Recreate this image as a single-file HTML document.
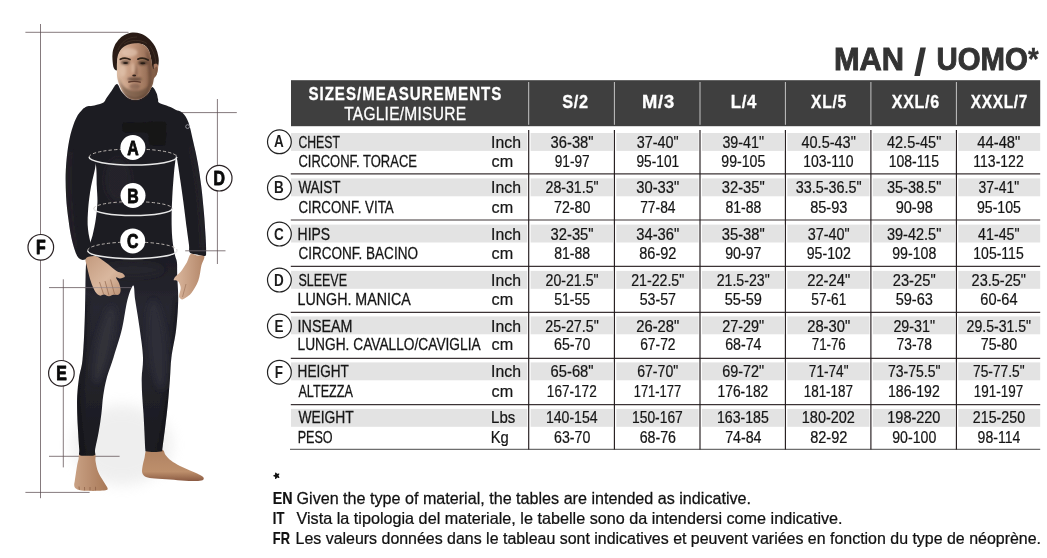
<!DOCTYPE html>
<html><head><meta charset="utf-8"><title>Size chart</title>
<style>
html,body{margin:0;padding:0;background:#ffffff;}
body{width:1047px;height:558px;overflow:hidden;font-family:"Liberation Sans",sans-serif;}
svg{display:block;font-family:"Liberation Sans",sans-serif;opacity:0.999;}
</style></head><body>
<svg width="1047" height="558" viewBox="0 0 1047 558">
<rect width="1047" height="558" fill="#ffffff"/>
<!-- figure -->
<defs>
  <linearGradient id="skinF" x1="0" y1="0" x2="1" y2="0">
    <stop offset="0" stop-color="#dcbca4"/><stop offset="0.4" stop-color="#c2957a"/><stop offset="1" stop-color="#7a5640"/>
  </linearGradient>
  <linearGradient id="suitG" gradientUnits="userSpaceOnUse" x1="0" y1="84" x2="0" y2="456">
    <stop offset="0" stop-color="#1d1c22"/><stop offset="0.46" stop-color="#1e1d24"/><stop offset="0.6" stop-color="#272730"/><stop offset="0.8" stop-color="#22222a"/><stop offset="1" stop-color="#1a1a1f"/>
  </linearGradient>
  <linearGradient id="handL" x1="0" y1="0" x2="1" y2="1">
    <stop offset="0" stop-color="#c39a7e"/><stop offset="0.55" stop-color="#d9b79e"/><stop offset="1" stop-color="#b88d70"/>
  </linearGradient>
  <linearGradient id="handR" x1="0" y1="0" x2="1" y2="0">
    <stop offset="0" stop-color="#dcb9a0"/><stop offset="1" stop-color="#b38668"/>
  </linearGradient>
  <linearGradient id="footL" x1="0" y1="0" x2="1" y2="0">
    <stop offset="0" stop-color="#c9a184"/><stop offset="1" stop-color="#a87857"/>
  </linearGradient>
  <linearGradient id="footR" x1="0" y1="0" x2="0" y2="1">
    <stop offset="0" stop-color="#b08261"/><stop offset="0.7" stop-color="#bd8f6c"/><stop offset="1" stop-color="#8a5a42"/>
  </linearGradient>
  <filter id="soft" x="-10%" y="-10%" width="120%" height="120%"><feGaussianBlur stdDeviation="0.45"/></filter>
  <filter id="b1" x="-30%" y="-30%" width="160%" height="160%"><feGaussianBlur stdDeviation="1"/></filter>
  <filter id="b3" x="-50%" y="-50%" width="200%" height="200%"><feGaussianBlur stdDeviation="3"/></filter>
  <filter id="shadow" x="-50%" y="-50%" width="200%" height="200%"><feGaussianBlur stdDeviation="7"/></filter>
  <clipPath id="armclip"><path d="M89.4 106.1 C86.5 105.7 82.4 109.4 79.7 112.6 C77.0 115.8 75.1 120.1 73.2 125.5 C71.3 130.9 69.6 137.3 68.4 144.8 C67.2 152.3 66.2 162.0 65.8 170.6 C65.4 179.2 65.7 188.4 66.1 196.5 C66.5 204.6 67.5 212.0 68.4 219.0 C69.3 226.0 70.2 232.5 71.6 238.4 C72.9 244.3 75.0 251.0 76.5 254.5 C78.0 258.0 79.0 258.3 80.5 259.2 C82.0 260.1 82.9 260.3 85.2 259.6 C87.5 258.9 93.6 258.0 94.4 255.0 C95.2 252.0 91.3 246.5 90.2 241.6 C89.1 236.7 88.0 231.4 87.7 225.5 C87.4 219.6 87.9 212.5 88.4 206.1 C89.0 199.7 89.8 193.8 91.0 186.8 C92.2 179.8 94.8 172.0 95.8 164.2 C96.8 156.4 96.8 148.2 97.0 140.0 C97.2 131.8 98.3 120.7 97.0 115.0 C95.7 109.3 92.3 106.5 89.4 106.1Z"/><path d="M166.0 112.0 C166.8 107.9 172.3 110.4 175.0 110.5 C177.7 110.6 180.0 110.6 182.2 112.6 C184.4 114.6 186.6 117.5 188.4 122.3 C190.2 127.1 191.6 134.6 193.2 141.6 C194.8 148.6 196.7 156.7 198.0 164.2 C199.3 171.7 200.3 178.7 201.3 186.8 C202.3 194.9 203.2 204.5 203.9 212.6 C204.6 220.7 205.1 228.8 205.5 235.2 C205.9 241.6 206.2 247.8 206.1 251.3 C206.0 254.8 206.5 255.4 205.0 256.0 C203.5 256.6 199.5 255.2 197.0 254.6 C194.5 254.0 191.1 254.0 189.8 252.4 C188.5 250.8 189.5 248.9 189.0 245.0 C188.5 241.1 187.7 235.7 186.8 228.7 C185.9 221.7 184.6 211.0 183.5 202.9 C182.4 194.8 181.5 188.4 180.3 180.3 C179.1 172.2 177.8 162.1 176.1 154.5 C174.4 146.9 171.7 142.1 170.0 135.0 C168.3 127.9 165.2 116.1 166.0 112.0Z"/></clipPath>
  <clipPath id="bodyclip"><path d="M117.0 84.0 C115.3 83.9 113.2 88.7 111.5 91.0 C109.8 93.3 107.8 96.1 106.5 98.0 C105.2 99.9 105.2 101.3 103.5 102.5 C101.8 103.7 98.3 104.3 96.0 105.0 C93.7 105.7 91.7 105.5 89.4 106.5 C87.1 107.5 82.9 107.1 82.0 111.0 C81.1 114.9 82.7 123.5 84.0 130.0 C85.3 136.5 88.0 144.3 90.0 150.0 C92.0 155.7 94.7 158.1 95.8 164.2 C96.9 170.3 96.5 180.4 96.8 186.8 C97.1 193.2 97.6 197.5 97.4 202.9 C97.2 208.3 96.6 213.6 95.8 219.0 C95.0 224.4 93.7 230.7 92.6 235.2 C91.5 239.7 90.0 242.2 89.0 246.0 C88.0 249.8 87.2 253.2 86.6 258.0 C86.0 262.8 85.8 268.0 85.6 275.0 C85.4 282.0 85.4 291.1 85.2 300.0 C85.0 308.9 84.9 318.7 84.4 328.7 C84.0 338.7 83.4 351.8 82.5 360.0 C81.6 368.2 79.9 371.9 79.0 377.9 C78.1 383.9 77.5 389.8 77.2 395.8 C76.9 401.8 77.1 407.8 77.2 413.8 C77.3 419.8 77.8 425.7 78.1 431.7 C78.4 437.7 79.0 445.7 79.3 449.6 C79.5 453.5 78.3 454.0 79.6 455.0 C80.9 456.0 84.5 455.8 87.0 455.8 C89.5 455.8 93.6 456.0 94.9 455.0 C96.2 454.0 94.5 453.5 95.1 449.6 C95.7 445.7 97.7 437.7 98.7 431.7 C99.8 425.7 100.7 419.8 101.4 413.8 C102.2 407.8 102.3 401.8 103.2 395.8 C104.1 389.8 105.0 384.3 106.7 377.9 C108.4 371.5 111.0 365.6 113.5 357.4 C116.0 349.2 119.7 338.3 122.0 328.7 C124.3 319.1 125.5 307.2 127.4 300.0 C129.3 292.8 132.0 285.4 133.3 285.4 C134.6 285.4 134.1 292.8 135.2 300.0 C136.3 307.2 138.4 319.1 139.7 328.7 C141.0 338.3 142.7 349.2 143.0 357.4 C143.3 365.6 141.8 371.5 141.7 377.9 C141.6 384.3 141.9 389.8 142.2 395.8 C142.5 401.8 143.1 407.8 143.5 413.8 C143.9 419.8 144.1 425.7 144.4 431.7 C144.7 437.7 145.0 446.3 145.3 449.6 C145.6 452.9 144.6 450.9 146.0 451.3 C147.4 451.7 151.3 452.0 154.0 452.0 C156.7 452.0 160.6 451.7 162.0 451.3 C163.4 450.9 161.9 452.9 162.3 449.6 C162.7 446.3 163.8 437.7 164.6 431.7 C165.3 425.7 166.1 419.8 166.8 413.8 C167.5 407.8 168.1 401.8 168.6 395.8 C169.1 389.8 169.5 384.3 170.0 377.9 C170.5 371.5 170.4 365.6 171.4 357.4 C172.4 349.2 175.1 338.3 176.2 328.7 C177.3 319.1 178.0 308.9 178.2 300.0 C178.4 291.1 177.4 281.3 177.2 275.0 C177.0 268.7 177.3 265.4 176.9 262.0 C176.5 258.6 175.6 258.4 174.8 254.5 C174.0 250.6 172.8 244.3 172.3 238.4 C171.8 232.5 171.6 226.0 171.6 219.0 C171.6 212.0 171.9 204.0 172.3 196.5 C172.7 189.0 173.3 180.9 173.9 173.9 C174.5 166.9 175.4 161.0 176.1 154.5 C176.8 148.0 177.3 140.8 178.0 135.0 C178.7 129.2 179.8 123.8 180.0 120.0 C180.2 116.2 180.5 114.6 179.0 112.5 C177.5 110.4 174.2 108.9 171.0 107.3 C167.8 105.7 161.7 104.4 159.5 103.0 C157.3 101.6 158.5 100.7 158.0 99.0 C157.5 97.3 157.4 95.0 156.5 93.0 C155.6 91.0 153.7 86.9 152.3 87.0 C150.9 87.1 149.8 91.6 148.0 93.5 C146.2 95.4 143.6 97.5 141.5 98.6 C139.4 99.6 137.6 99.9 135.3 99.8 C133.1 99.7 130.3 99.4 128.0 98.0 C125.7 96.6 123.3 93.8 121.5 91.5 C119.7 89.2 118.7 84.1 117.0 84.0Z"/></clipPath>
</defs>
<ellipse cx="122" cy="445" rx="50" ry="40" fill="#d8d8d8" opacity="0.42" filter="url(#shadow)"/>
<g stroke="#5c4e52" stroke-width="0.75" fill="none">
  <line x1="25.4" y1="32.3" x2="128.5" y2="32.3"/>
  <line x1="40.5" y1="24" x2="40.5" y2="498.2"/>
  <line x1="25.4" y1="492.4" x2="89.6" y2="492.4"/>
  <line x1="49" y1="287.6" x2="131.8" y2="287.6"/>
  <line x1="63.3" y1="279.3" x2="63.3" y2="467.4"/>
  <line x1="49" y1="456.3" x2="119.6" y2="456.3"/>
  <line x1="182" y1="112.6" x2="236.8" y2="112.6"/>
  <line x1="217.4" y1="99" x2="217.4" y2="264"/>
  <line x1="185.2" y1="250.8" x2="225.5" y2="250.8"/>
</g>
<g filter="url(#soft)">
<path d="M79.6 454.0 C81.0 453.3 84.5 455.0 87.0 455.0 C89.5 455.0 93.5 452.9 94.9 454.0 C96.3 455.1 95.0 458.4 95.6 461.4 C96.1 464.4 96.9 468.8 98.2 472.1 C99.5 475.4 102.0 478.7 103.6 481.4 C105.2 484.1 107.3 486.8 107.6 488.3 C107.9 489.8 107.1 489.9 105.5 490.3 C103.9 490.7 100.9 490.7 98.0 490.8 C95.1 490.9 91.0 490.9 88.0 490.8 C85.0 490.7 82.1 490.6 80.0 490.2 C77.9 489.8 76.5 489.2 75.5 488.3 C74.5 487.4 74.3 486.4 74.2 485.0 C74.1 483.6 74.5 483.2 74.9 480.1 C75.4 477.1 76.3 470.2 76.9 466.7 C77.5 463.2 78.1 461.1 78.6 459.0 C79.0 456.9 78.2 454.7 79.6 454.0Z" fill="url(#footL)"/>
<path d="M146.6 450.0 C148.2 448.8 151.3 451.0 154.0 451.0 C156.7 451.0 160.8 449.3 162.7 450.0 C164.6 450.7 164.1 453.2 165.5 455.0 C166.9 456.8 168.6 458.7 171.0 460.5 C173.4 462.3 176.8 464.3 180.0 466.0 C183.2 467.7 186.8 469.1 190.0 470.5 C193.2 471.9 196.8 473.3 199.0 474.5 C201.2 475.7 202.9 476.6 203.5 477.5 C204.1 478.4 203.8 479.6 202.5 480.2 C201.2 480.8 198.9 480.9 196.0 481.0 C193.1 481.1 189.3 481.1 185.0 480.8 C180.7 480.6 175.0 479.9 170.0 479.5 C165.0 479.1 159.0 478.8 155.0 478.4 C151.0 478.0 148.1 477.9 146.0 477.0 C143.9 476.1 142.9 474.8 142.3 473.0 C141.7 471.2 142.2 468.5 142.6 466.0 C143.0 463.5 143.8 460.7 144.5 458.0 C145.2 455.3 145.0 451.2 146.6 450.0Z" fill="url(#footR)"/>
<path d="M79 486.5 L79.3 489.8 M84.5 487 L84.6 490.4 M90 487 L90 490.6 M95.5 486.8 L95.6 490.4" stroke="#8a5d44" stroke-width="0.7" fill="none"/>
<path d="M117.0 84.0 C115.3 83.9 113.2 88.7 111.5 91.0 C109.8 93.3 107.8 96.1 106.5 98.0 C105.2 99.9 105.2 101.3 103.5 102.5 C101.8 103.7 98.3 104.3 96.0 105.0 C93.7 105.7 91.7 105.5 89.4 106.5 C87.1 107.5 82.9 107.1 82.0 111.0 C81.1 114.9 82.7 123.5 84.0 130.0 C85.3 136.5 88.0 144.3 90.0 150.0 C92.0 155.7 94.7 158.1 95.8 164.2 C96.9 170.3 96.5 180.4 96.8 186.8 C97.1 193.2 97.6 197.5 97.4 202.9 C97.2 208.3 96.6 213.6 95.8 219.0 C95.0 224.4 93.7 230.7 92.6 235.2 C91.5 239.7 90.0 242.2 89.0 246.0 C88.0 249.8 87.2 253.2 86.6 258.0 C86.0 262.8 85.8 268.0 85.6 275.0 C85.4 282.0 85.4 291.1 85.2 300.0 C85.0 308.9 84.9 318.7 84.4 328.7 C84.0 338.7 83.4 351.8 82.5 360.0 C81.6 368.2 79.9 371.9 79.0 377.9 C78.1 383.9 77.5 389.8 77.2 395.8 C76.9 401.8 77.1 407.8 77.2 413.8 C77.3 419.8 77.8 425.7 78.1 431.7 C78.4 437.7 79.0 445.7 79.3 449.6 C79.5 453.5 78.3 454.0 79.6 455.0 C80.9 456.0 84.5 455.8 87.0 455.8 C89.5 455.8 93.6 456.0 94.9 455.0 C96.2 454.0 94.5 453.5 95.1 449.6 C95.7 445.7 97.7 437.7 98.7 431.7 C99.8 425.7 100.7 419.8 101.4 413.8 C102.2 407.8 102.3 401.8 103.2 395.8 C104.1 389.8 105.0 384.3 106.7 377.9 C108.4 371.5 111.0 365.6 113.5 357.4 C116.0 349.2 119.7 338.3 122.0 328.7 C124.3 319.1 125.5 307.2 127.4 300.0 C129.3 292.8 132.0 285.4 133.3 285.4 C134.6 285.4 134.1 292.8 135.2 300.0 C136.3 307.2 138.4 319.1 139.7 328.7 C141.0 338.3 142.7 349.2 143.0 357.4 C143.3 365.6 141.8 371.5 141.7 377.9 C141.6 384.3 141.9 389.8 142.2 395.8 C142.5 401.8 143.1 407.8 143.5 413.8 C143.9 419.8 144.1 425.7 144.4 431.7 C144.7 437.7 145.0 446.3 145.3 449.6 C145.6 452.9 144.6 450.9 146.0 451.3 C147.4 451.7 151.3 452.0 154.0 452.0 C156.7 452.0 160.6 451.7 162.0 451.3 C163.4 450.9 161.9 452.9 162.3 449.6 C162.7 446.3 163.8 437.7 164.6 431.7 C165.3 425.7 166.1 419.8 166.8 413.8 C167.5 407.8 168.1 401.8 168.6 395.8 C169.1 389.8 169.5 384.3 170.0 377.9 C170.5 371.5 170.4 365.6 171.4 357.4 C172.4 349.2 175.1 338.3 176.2 328.7 C177.3 319.1 178.0 308.9 178.2 300.0 C178.4 291.1 177.4 281.3 177.2 275.0 C177.0 268.7 177.3 265.4 176.9 262.0 C176.5 258.6 175.6 258.4 174.8 254.5 C174.0 250.6 172.8 244.3 172.3 238.4 C171.8 232.5 171.6 226.0 171.6 219.0 C171.6 212.0 171.9 204.0 172.3 196.5 C172.7 189.0 173.3 180.9 173.9 173.9 C174.5 166.9 175.4 161.0 176.1 154.5 C176.8 148.0 177.3 140.8 178.0 135.0 C178.7 129.2 179.8 123.8 180.0 120.0 C180.2 116.2 180.5 114.6 179.0 112.5 C177.5 110.4 174.2 108.9 171.0 107.3 C167.8 105.7 161.7 104.4 159.5 103.0 C157.3 101.6 158.5 100.7 158.0 99.0 C157.5 97.3 157.4 95.0 156.5 93.0 C155.6 91.0 153.7 86.9 152.3 87.0 C150.9 87.1 149.8 91.6 148.0 93.5 C146.2 95.4 143.6 97.5 141.5 98.6 C139.4 99.6 137.6 99.9 135.3 99.8 C133.1 99.7 130.3 99.4 128.0 98.0 C125.7 96.6 123.3 93.8 121.5 91.5 C119.7 89.2 118.7 84.1 117.0 84.0Z" fill="url(#suitG)"/>
<g clip-path="url(#bodyclip)" filter="url(#b3)">
<ellipse cx="104" cy="345" rx="8" ry="40" fill="#353541" opacity="0.6" transform="rotate(12 104 345)"/>
<ellipse cx="157" cy="345" rx="9" ry="45" fill="#33333f" opacity="0.55" transform="rotate(-5 157 345)"/>
<ellipse cx="133" cy="270" rx="30" ry="7" fill="#2b2b34" opacity="0.5"/>
<ellipse cx="118" cy="180" rx="13" ry="22" fill="#2a2a33" opacity="0.45"/>
<path d="M85 300 L83 345 L78 400 L79 455" stroke="#121216" stroke-width="3" fill="none" opacity="0.7"/>
<path d="M178 300 L175 345 L168 400 L162.5 452" stroke="#121216" stroke-width="3" fill="none" opacity="0.7"/>
</g>
<path d="M89.4 106.1 C86.5 105.7 82.4 109.4 79.7 112.6 C77.0 115.8 75.1 120.1 73.2 125.5 C71.3 130.9 69.6 137.3 68.4 144.8 C67.2 152.3 66.2 162.0 65.8 170.6 C65.4 179.2 65.7 188.4 66.1 196.5 C66.5 204.6 67.5 212.0 68.4 219.0 C69.3 226.0 70.2 232.5 71.6 238.4 C72.9 244.3 75.0 251.0 76.5 254.5 C78.0 258.0 79.0 258.3 80.5 259.2 C82.0 260.1 82.9 260.3 85.2 259.6 C87.5 258.9 93.6 258.0 94.4 255.0 C95.2 252.0 91.3 246.5 90.2 241.6 C89.1 236.7 88.0 231.4 87.7 225.5 C87.4 219.6 87.9 212.5 88.4 206.1 C89.0 199.7 89.8 193.8 91.0 186.8 C92.2 179.8 94.8 172.0 95.8 164.2 C96.8 156.4 96.8 148.2 97.0 140.0 C97.2 131.8 98.3 120.7 97.0 115.0 C95.7 109.3 92.3 106.5 89.4 106.1Z" fill="#1d1c22"/>
<path d="M166.0 112.0 C166.8 107.9 172.3 110.4 175.0 110.5 C177.7 110.6 180.0 110.6 182.2 112.6 C184.4 114.6 186.6 117.5 188.4 122.3 C190.2 127.1 191.6 134.6 193.2 141.6 C194.8 148.6 196.7 156.7 198.0 164.2 C199.3 171.7 200.3 178.7 201.3 186.8 C202.3 194.9 203.2 204.5 203.9 212.6 C204.6 220.7 205.1 228.8 205.5 235.2 C205.9 241.6 206.2 247.8 206.1 251.3 C206.0 254.8 206.5 255.4 205.0 256.0 C203.5 256.6 199.5 255.2 197.0 254.6 C194.5 254.0 191.1 254.0 189.8 252.4 C188.5 250.8 189.5 248.9 189.0 245.0 C188.5 241.1 187.7 235.7 186.8 228.7 C185.9 221.7 184.6 211.0 183.5 202.9 C182.4 194.8 181.5 188.4 180.3 180.3 C179.1 172.2 177.8 162.1 176.1 154.5 C174.4 146.9 171.7 142.1 170.0 135.0 C168.3 127.9 165.2 116.1 166.0 112.0Z" fill="#1d1c22"/>
<g clip-path="url(#armclip)">
<path d="M70 150 C67.5 180 69 215 75 250" stroke="#2c2b34" stroke-width="3" fill="none" filter="url(#b3)" opacity="0.9"/>
<path d="M192 145 C199 180 203 215 203 250" stroke="#2e2d36" stroke-width="3.5" fill="none" filter="url(#b3)" opacity="0.9"/>
</g>
<path d="M85.6 259.0 C85.0 260.5 85.9 262.0 86.7 265.6 C87.5 269.2 89.2 276.5 90.6 280.8 C92.0 285.1 93.6 289.0 95.1 291.5 C96.6 294.0 98.2 295.1 99.7 295.6 C101.2 296.1 102.5 294.4 104.0 294.5 C105.5 294.6 107.3 296.2 108.9 296.3 C110.5 296.4 111.8 295.1 113.5 294.8 C115.2 294.5 117.6 295.4 118.8 294.6 C120.0 293.8 120.6 291.9 120.6 290.0 C120.6 288.1 119.8 285.1 119.0 283.0 C118.2 280.9 115.8 278.2 116.0 277.5 C116.2 276.8 118.5 278.6 120.0 278.5 C121.5 278.4 124.6 277.5 124.9 276.6 C125.2 275.7 123.4 273.9 122.0 273.0 C120.6 272.1 119.2 272.6 116.5 270.9 C113.8 269.1 109.1 264.9 105.8 262.5 C102.5 260.1 99.3 257.4 96.7 256.4 C94.1 255.4 91.8 256.2 90.0 256.6 C88.2 257.0 86.1 257.5 85.6 259.0Z" fill="url(#handL)"/>
<path d="M190.7 254.0 C192.4 252.8 194.7 255.0 197.0 255.4 C199.3 255.8 203.6 254.8 204.3 256.5 C205.0 258.2 202.4 261.6 201.4 265.6 C200.4 269.7 200.0 276.2 198.3 280.8 C196.6 285.4 193.5 290.3 191.4 293.1 C189.3 295.9 187.5 296.4 186.0 297.5 C184.5 298.6 183.3 299.4 182.2 299.4 C181.1 299.4 179.9 298.2 179.4 297.5 C178.9 296.8 179.0 296.5 179.2 295.0 C179.4 293.5 180.6 290.4 180.7 288.5 C180.8 286.6 180.0 284.8 179.5 283.5 C179.0 282.2 178.6 281.5 177.7 281.0 C176.8 280.5 174.2 281.1 173.8 280.3 C173.4 279.6 174.3 277.9 175.5 276.5 C176.7 275.1 178.8 274.0 180.7 271.7 C182.6 269.4 185.1 265.4 186.8 262.5 C188.5 259.6 189.0 255.2 190.7 254.0Z" fill="url(#handR)"/>
<path d="M99.5 282 L103.5 294 M105 281 L109 295.5 M110.5 279.5 L114.5 294" stroke="#8c6249" stroke-width="0.8" fill="none" opacity="0.8"/>
<path d="M186 284 L182.5 297" stroke="#8c6249" stroke-width="0.7" fill="none" opacity="0.7"/>
</g>
<path d="M123.0 123.0 C124.3 122.2 127.2 122.3 130.0 122.2 C132.8 122.1 137.0 122.6 140.0 122.6 C143.0 122.6 145.2 122.2 148.0 122.0 C150.8 121.8 154.3 121.6 157.0 121.6 C159.7 121.6 162.5 121.4 164.0 121.8 C165.5 122.2 165.8 122.3 166.2 124.0 C166.6 125.7 166.4 129.2 166.3 132.0 C166.2 134.8 166.1 138.8 165.8 141.0 C165.5 143.2 165.8 144.4 164.5 145.2 C163.2 146.0 160.2 145.8 158.0 145.8 C155.8 145.8 152.5 145.8 151.0 145.2 C149.5 144.6 149.4 143.5 149.0 142.0 C148.6 140.5 149.1 137.5 148.6 136.0 C148.1 134.5 148.1 133.4 146.0 132.8 C143.9 132.2 139.2 132.6 136.0 132.6 C132.8 132.6 129.1 133.0 127.0 132.8 C124.9 132.6 124.0 132.5 123.2 131.5 C122.4 130.5 122.4 128.4 122.4 127.0 C122.4 125.6 121.7 123.8 123.0 123.0Z" fill="#161517" filter="url(#soft)"/>
<circle cx="187.6" cy="126.6" r="1.9" fill="none" stroke="#a8a8b0" stroke-width="0.8"/>
<g filter="url(#soft)">
<path d="M113.8 68.0 C113.0 66.3 112.7 62.6 112.5 60.0 C112.3 57.4 112.3 54.7 112.6 52.4 C112.9 50.1 113.7 47.9 114.5 46.0 C115.3 44.1 116.3 42.7 117.6 41.1 C118.8 39.5 120.4 37.7 122.0 36.5 C123.6 35.3 125.3 34.4 127.3 33.7 C129.3 33.1 131.8 32.6 134.0 32.6 C136.2 32.6 138.3 33.0 140.2 33.6 C142.1 34.2 143.9 35.0 145.5 36.0 C147.1 37.0 148.5 38.2 149.8 39.5 C151.1 40.8 152.4 42.4 153.5 44.0 C154.6 45.6 155.6 47.4 156.3 49.2 C157.1 51.0 157.6 53.1 158.0 55.0 C158.4 56.9 158.8 58.5 158.8 60.5 C158.8 62.5 158.5 64.8 158.0 67.0 C157.5 69.2 156.6 72.5 155.8 74.0 C155.0 75.5 153.6 77.3 153.0 76.0 C152.4 74.7 152.4 69.3 152.0 66.0 C151.6 62.7 151.2 58.8 150.5 56.0 C149.8 53.2 149.2 50.9 148.0 49.0 C146.8 47.1 145.0 45.3 143.0 44.5 C141.0 43.7 138.5 43.8 136.0 44.0 C133.5 44.2 130.3 44.7 128.0 45.5 C125.7 46.3 123.5 47.6 122.0 49.0 C120.5 50.4 119.8 52.0 119.0 54.0 C118.2 56.0 117.8 58.3 117.5 61.0 C117.2 63.7 117.8 68.8 117.2 70.0 C116.6 71.2 114.6 69.7 113.8 68.0Z" fill="#2a1f18"/>
<path d="M153.6 64.5 C156 62.5 158.3 63.5 158.2 67 C158 71.5 156.5 76 154 77.5Z" fill="#a67860"/>
<path d="M116.9 70.0 C116.9 67.7 116.8 64.5 117.0 62.0 C117.2 59.5 117.3 57.1 118.0 55.0 C118.7 52.9 119.7 51.1 121.0 49.5 C122.3 47.9 124.0 46.5 126.0 45.5 C128.0 44.5 130.7 43.8 133.0 43.5 C135.3 43.2 137.8 43.0 140.0 43.5 C142.2 44.0 144.4 45.1 146.0 46.5 C147.6 47.9 148.6 49.9 149.5 52.0 C150.4 54.1 150.7 56.7 151.2 59.0 C151.7 61.3 151.9 64.3 152.3 66.0 C152.7 67.7 152.8 68.9 153.5 69.0 C154.2 69.1 155.8 66.4 156.5 66.5 C157.2 66.6 157.6 68.1 157.6 69.5 C157.6 70.9 157.1 73.5 156.5 75.0 C155.9 76.5 154.6 77.0 154.0 78.5 C153.4 80.0 153.4 82.2 152.8 84.0 C152.2 85.8 151.5 87.8 150.5 89.5 C149.5 91.2 148.5 93.0 147.0 94.5 C145.5 96.0 143.4 97.7 141.5 98.6 C139.6 99.5 137.4 99.8 135.3 99.8 C133.2 99.8 130.8 99.3 129.0 98.3 C127.2 97.3 125.9 95.6 124.5 94.0 C123.1 92.4 121.8 90.5 120.8 88.5 C119.8 86.5 118.9 84.1 118.3 82.0 C117.7 79.9 117.2 78.0 117.0 76.0 C116.8 74.0 116.9 72.3 116.9 70.0Z" fill="url(#skinF)"/>
</g>
<g filter="url(#b1)">
<path d="M121 88 C124 94 129 97.5 135.3 98 C141.5 97.6 146.5 94 150 88.5 C149 94 144 99.5 135.3 100 C127 99.6 122.5 94 121 88Z" fill="#4a3226" opacity="0.75"/>
<path d="M118 75 C119.5 85 123.5 92.5 128.5 96.3 C133 99.4 139.5 99.2 143.5 96.6 C148.5 93 152 85.5 153.2 77 C150.5 84.5 146.5 88.8 141.5 90 C136.5 91 130 90.6 126 88.2 C122 85.8 119.5 81 118 75Z" fill="#5a4233" opacity="0.6"/>
<ellipse cx="134.6" cy="79.2" rx="7.2" ry="1.9" fill="#4a3528" opacity="0.7"/>
<ellipse cx="134.8" cy="86.5" rx="5.5" ry="3.2" fill="#6a4c3b" opacity="0.5"/>
<path d="M146 50 C150 56 151.5 64 152 72 C152 80 150 87 147 92 C149 84 148.5 74 147.5 66 C147 60 146.5 55 146 50Z" fill="#5e4030" opacity="0.55"/>
<ellipse cx="129.5" cy="52.5" rx="8" ry="4.2" fill="#e6ccb8" opacity="0.6"/>
<ellipse cx="122.8" cy="71" rx="3.2" ry="5.5" fill="#e3c6b0" opacity="0.55"/>
<ellipse cx="132.8" cy="68" rx="1.6" ry="5" fill="#e2c4ae" opacity="0.6"/>
<ellipse cx="125.3" cy="62.6" rx="4.4" ry="2.3" fill="#4a3428" opacity="0.7"/>
<ellipse cx="142.6" cy="62.8" rx="4.6" ry="2.4" fill="#3e2b21" opacity="0.75"/>
<path d="M135.8 62 C136.8 66 137.6 70 137.8 74.5 L135.5 76.5 L134.5 74 C135.3 70 135.6 66 135.8 62Z" fill="#7a5642" opacity="0.65"/>
</g>
<g filter="url(#soft)">
<path d="M120.3 59.3 C123 57.9 127 58 130 59.6 M137.8 59.2 C140.5 57.7 145 58 148.2 60" stroke="#2e2019" stroke-width="1.7" fill="none" stroke-linecap="round"/>
<ellipse cx="125.6" cy="63" rx="2.4" ry="1" fill="#2b1e18"/><ellipse cx="142.8" cy="63.2" rx="2.5" ry="1" fill="#281c16"/>
<ellipse cx="134.2" cy="75.4" rx="2" ry="1" fill="#33231c"/>
<path d="M128.8 82 C132 81.2 137 81.2 140.3 82.2" stroke="#5a382c" stroke-width="1.3" fill="none" stroke-linecap="round"/>
<path d="M118 50 C121 42 128 37 137 37 M124 44 C130 39.5 140 39 147 43.5 M150 46 C153.5 51 155.5 57 156 64" stroke="#45352a" stroke-width="1" fill="none" opacity="0.7"/>
</g>
<g stroke="#8a8088" stroke-width="0.8" fill="none" opacity="0.75">
  <line x1="84" y1="287.6" x2="131.8" y2="287.6"/>
  <line x1="189" y1="250.8" x2="206" y2="250.8"/>
</g>
<g fill="none">
<path d="M89.1 157.0 A43.9 8.0 0 0 0 176.9 157.0" stroke="#e8e8e8" stroke-width="1.5"/><path d="M89.1 157.0 A43.9 8.0 0 0 1 176.9 157.0" stroke="#c8c2bc" stroke-width="0.9" stroke-dasharray="3.2 2.2"/>
<path d="M93.7 208.6 A39.3 7.0 0 0 0 172.3 208.6" stroke="#e8e8e8" stroke-width="1.5"/><path d="M93.7 208.6 A39.3 7.0 0 0 1 172.3 208.6" stroke="#c8c2bc" stroke-width="0.9" stroke-dasharray="3.2 2.2"/>
<path d="M87.6 250.4 A44.7 8.4 0 0 0 177.0 250.4" stroke="#e8e8e8" stroke-width="1.5"/><path d="M87.6 250.4 A44.7 8.4 0 0 1 177.0 250.4" stroke="#c8c2bc" stroke-width="0.9" stroke-dasharray="3.2 2.2"/>
</g>
<circle cx="132.9" cy="147.5" r="12.5" fill="#fff"/><text transform="translate(132.9 154.5) scale(0.78 1)" font-size="20.3" font-weight="bold" text-anchor="middle" fill="#0a0a0a" stroke="#0a0a0a" stroke-width="0.9" stroke-linejoin="round">A</text>
<circle cx="133.0" cy="195.5" r="12.5" fill="#fff"/><text transform="translate(133.0 202.5) scale(0.78 1)" font-size="20.3" font-weight="bold" text-anchor="middle" fill="#0a0a0a" stroke="#0a0a0a" stroke-width="0.9" stroke-linejoin="round">B</text>
<circle cx="132.7" cy="240.9" r="12.5" fill="#fff"/><text transform="translate(132.7 247.9) scale(0.78 1)" font-size="20.3" font-weight="bold" text-anchor="middle" fill="#0a0a0a" stroke="#0a0a0a" stroke-width="0.9" stroke-linejoin="round">C</text>
<circle cx="219.2" cy="178.2" r="12.8" fill="#fff" stroke="#2a2224" stroke-width="1.2"/><text transform="translate(219.2 185.2) scale(0.78 1)" font-size="20.3" font-weight="bold" text-anchor="middle" fill="#0a0a0a" stroke="#0a0a0a" stroke-width="0.9" stroke-linejoin="round">D</text>
<circle cx="61.4" cy="373.3" r="12.8" fill="#fff" stroke="#2a2224" stroke-width="1.2"/><text transform="translate(61.4 380.3) scale(0.78 1)" font-size="20.3" font-weight="bold" text-anchor="middle" fill="#0a0a0a" stroke="#0a0a0a" stroke-width="0.9" stroke-linejoin="round">E</text>
<circle cx="40.8" cy="247.3" r="12.8" fill="#fff" stroke="#2a2224" stroke-width="1.2"/><text transform="translate(40.8 254.3) scale(0.78 1)" font-size="20.3" font-weight="bold" text-anchor="middle" fill="#0a0a0a" stroke="#0a0a0a" stroke-width="0.9" stroke-linejoin="round">F</text>
<!-- table -->
<g shape-rendering="auto">
<rect x="291.0" y="80.2" width="749.2" height="46.0" fill="#3f3f3f"/>
<line x1="528.7" y1="82" x2="528.7" y2="124.8" stroke="#c4c4c4" stroke-width="1"/>
<line x1="614.4" y1="82" x2="614.4" y2="124.8" stroke="#c4c4c4" stroke-width="1"/>
<line x1="700.0" y1="82" x2="700.0" y2="124.8" stroke="#c4c4c4" stroke-width="1"/>
<line x1="785.4" y1="82" x2="785.4" y2="124.8" stroke="#c4c4c4" stroke-width="1"/>
<line x1="870.9" y1="82" x2="870.9" y2="124.8" stroke="#c4c4c4" stroke-width="1"/>
<line x1="956.4" y1="82" x2="956.4" y2="124.8" stroke="#c4c4c4" stroke-width="1"/>
<rect x="291" y="133.0" width="749.2" height="17.9" fill="#e3e3e3"/>
<rect x="291" y="178.4" width="749.2" height="17.9" fill="#e3e3e3"/>
<rect x="291" y="224.6" width="749.2" height="17.9" fill="#e3e3e3"/>
<rect x="291" y="270.9" width="749.2" height="17.9" fill="#e3e3e3"/>
<rect x="291" y="316.4" width="749.2" height="17.9" fill="#e3e3e3"/>
<rect x="291" y="362.4" width="749.2" height="17.9" fill="#e3e3e3"/>
<rect x="291" y="408.9" width="749.2" height="17.9" fill="#e3e3e3"/>
<rect x="527.3" y="130" width="3.3" height="320" fill="#ffffff"/>
<rect x="613.0" y="130" width="3.3" height="320" fill="#ffffff"/>
<rect x="698.6" y="130" width="3.3" height="320" fill="#ffffff"/>
<rect x="784.0" y="130" width="3.3" height="320" fill="#ffffff"/>
<rect x="869.5" y="130" width="3.3" height="320" fill="#ffffff"/>
<rect x="955.0" y="130" width="3.3" height="320" fill="#ffffff"/>
<line x1="290.8" y1="173.8" x2="1040.2" y2="173.8" stroke="#3c3436" stroke-width="1.2"/>
<line x1="290.8" y1="220.0" x2="1040.2" y2="220.0" stroke="#3c3436" stroke-width="1.2"/>
<line x1="290.8" y1="266.4" x2="1040.2" y2="266.4" stroke="#3c3436" stroke-width="1.2"/>
<line x1="290.8" y1="312.3" x2="1040.2" y2="312.3" stroke="#3c3436" stroke-width="1.2"/>
<line x1="290.8" y1="358.4" x2="1040.2" y2="358.4" stroke="#3c3436" stroke-width="1.2"/>
<line x1="290.8" y1="404.7" x2="1040.2" y2="404.7" stroke="#3c3436" stroke-width="1.2"/>
<line x1="290" y1="449.3" x2="1040.2" y2="449.3" stroke="#6e6e6e" stroke-width="1.3"/>
<line x1="528.7" y1="130" x2="528.7" y2="449.5" stroke="#241c1e" stroke-width="1.15"/>
<line x1="614.4" y1="130" x2="614.4" y2="449.5" stroke="#241c1e" stroke-width="1.15"/>
<line x1="700.0" y1="130" x2="700.0" y2="449.5" stroke="#241c1e" stroke-width="1.15"/>
<line x1="785.4" y1="130" x2="785.4" y2="449.5" stroke="#241c1e" stroke-width="1.15"/>
<line x1="870.9" y1="130" x2="870.9" y2="449.5" stroke="#241c1e" stroke-width="1.15"/>
<line x1="956.4" y1="130" x2="956.4" y2="449.5" stroke="#241c1e" stroke-width="1.15"/>
</g>
<g>
<circle cx="279.4" cy="141.8" r="11.9" fill="#fff" stroke="#222" stroke-width="1.2"/>
<text transform="translate(278.9 147.3) scale(0.86 1)" font-size="15.7" font-weight="bold" text-anchor="middle" fill="#1c1c1c">A</text>
<circle cx="279.4" cy="187.8" r="11.9" fill="#fff" stroke="#222" stroke-width="1.2"/>
<text transform="translate(278.9 193.3) scale(0.86 1)" font-size="15.7" font-weight="bold" text-anchor="middle" fill="#1c1c1c">B</text>
<circle cx="279.4" cy="234.1" r="11.9" fill="#fff" stroke="#222" stroke-width="1.2"/>
<text transform="translate(278.9 239.6) scale(0.86 1)" font-size="15.7" font-weight="bold" text-anchor="middle" fill="#1c1c1c">C</text>
<circle cx="279.4" cy="280.1" r="11.9" fill="#fff" stroke="#222" stroke-width="1.2"/>
<text transform="translate(278.9 285.6) scale(0.86 1)" font-size="15.7" font-weight="bold" text-anchor="middle" fill="#1c1c1c">D</text>
<circle cx="279.4" cy="326.0" r="11.9" fill="#fff" stroke="#222" stroke-width="1.2"/>
<text transform="translate(278.9 331.5) scale(0.86 1)" font-size="15.7" font-weight="bold" text-anchor="middle" fill="#1c1c1c">E</text>
<circle cx="279.4" cy="372.2" r="11.9" fill="#fff" stroke="#222" stroke-width="1.2"/>
<text transform="translate(278.9 377.7) scale(0.86 1)" font-size="15.7" font-weight="bold" text-anchor="middle" fill="#1c1c1c">F</text>
</g>
<g>
<text transform="translate(833.91 70.30) scale(0.9939 1)" font-size="31" font-weight="bold" stroke="#333333" stroke-width="0.9" fill="#333333">MAN</text>
<text transform="translate(936.45 70.30) scale(0.9467 1)" font-size="31" font-weight="bold" stroke="#333333" stroke-width="0.9" fill="#333333">UOMO</text>
<text transform="translate(1028.00 70.30) scale(0.8923 1)" font-size="31" font-weight="bold" stroke="#333333" stroke-width="0.3" fill="#333333">*</text>
<text transform="translate(308.40 99.90) scale(0.8252 1)" font-size="18.3" font-weight="bold" letter-spacing="1.2" stroke="#ffffff" stroke-width="0.3" fill="#ffffff">SIZES/MEASUREMENTS</text>
<text transform="translate(344.20 119.70) scale(0.8355 1)" font-size="18.6" letter-spacing="0.3" stroke="#ffffff" stroke-width="0.3" fill="#ffffff">TAGLIE/MISURE</text>
<text transform="translate(562.20 107.80) scale(0.8835 1)" font-size="18.4" font-weight="bold" letter-spacing="0.8" stroke="#ffffff" stroke-width="0.3" fill="#ffffff">S/2</text>
<text transform="translate(642.00 107.80) scale(0.9991 1)" font-size="18.4" font-weight="bold" letter-spacing="0.8" stroke="#ffffff" stroke-width="0.3" fill="#ffffff">M/3</text>
<text transform="translate(730.68 107.80) scale(0.9161 1)" font-size="18.4" font-weight="bold" letter-spacing="0.8" stroke="#ffffff" stroke-width="0.3" fill="#ffffff">L/4</text>
<text transform="translate(811.10 107.80) scale(0.8486 1)" font-size="18.4" font-weight="bold" letter-spacing="0.8" stroke="#ffffff" stroke-width="0.3" fill="#ffffff">XL/5</text>
<text transform="translate(891.80 107.80) scale(0.8728 1)" font-size="18.4" font-weight="bold" letter-spacing="0.8" stroke="#ffffff" stroke-width="0.3" fill="#ffffff">XXL/6</text>
<text transform="translate(970.70 107.80) scale(0.8400 1)" font-size="18.4" font-weight="bold" letter-spacing="0.8" stroke="#ffffff" stroke-width="0.3" fill="#ffffff">XXXL/7</text>
<text transform="translate(298.40 147.50) scale(0.7294 1)" font-size="16.8" stroke="#151515" stroke-width="0.28" fill="#151515">CHEST</text>
<text transform="translate(298.40 166.80) scale(0.7735 1)" font-size="16.8" stroke="#151515" stroke-width="0.28" fill="#151515">CIRCONF. TORACE</text>
<text transform="translate(491.06 147.50) scale(0.9412 1)" font-size="16.8" stroke="#151515" stroke-width="0.22" fill="#151515">Inch</text>
<text transform="translate(491.60 166.80) scale(0.9630 1)" font-size="16.8" stroke="#151515" stroke-width="0.22" fill="#151515">cm</text>
<text transform="translate(550.60 147.50) scale(0.9047 1)" font-size="16.3" stroke="#151515" stroke-width="0.22" fill="#151515">36-38&quot;</text>
<text transform="translate(554.70 166.80) scale(0.8392 1)" font-size="16.3" stroke="#151515" stroke-width="0.22" fill="#151515">91-97</text>
<text transform="translate(636.73 147.50) scale(0.8847 1)" font-size="16.3" stroke="#151515" stroke-width="0.22" fill="#151515">37-40&quot;</text>
<text transform="translate(636.48 166.80) scale(0.8422 1)" font-size="16.3" stroke="#151515" stroke-width="0.22" fill="#151515">95-101</text>
<text transform="translate(722.43 147.50) scale(0.8763 1)" font-size="16.3" stroke="#151515" stroke-width="0.22" fill="#151515">39-41&quot;</text>
<text transform="translate(721.30 166.80) scale(0.8689 1)" font-size="16.3" stroke="#151515" stroke-width="0.22" fill="#151515">99-105</text>
<text transform="translate(801.48 147.50) scale(0.8911 1)" font-size="16.3" stroke="#151515" stroke-width="0.22" fill="#151515">40.5-43&quot;</text>
<text transform="translate(803.16 166.80) scale(0.8602 1)" font-size="16.3" stroke="#151515" stroke-width="0.22" fill="#151515">103-110</text>
<text transform="translate(886.98 147.50) scale(0.8911 1)" font-size="16.3" stroke="#151515" stroke-width="0.22" fill="#151515">42.5-45&quot;</text>
<text transform="translate(888.66 166.80) scale(0.8602 1)" font-size="16.3" stroke="#151515" stroke-width="0.22" fill="#151515">108-115</text>
<text transform="translate(977.35 147.50) scale(0.9047 1)" font-size="16.3" stroke="#151515" stroke-width="0.22" fill="#151515">44-48&quot;</text>
<text transform="translate(973.31 166.80) scale(0.8602 1)" font-size="16.3" stroke="#151515" stroke-width="0.22" fill="#151515">113-122</text>
<text transform="translate(298.40 193.30) scale(0.8036 1)" font-size="16.8" stroke="#151515" stroke-width="0.28" fill="#151515">WAIST</text>
<text transform="translate(298.40 212.90) scale(0.7941 1)" font-size="16.8" stroke="#151515" stroke-width="0.28" fill="#151515">CIRCONF. VITA</text>
<text transform="translate(491.06 193.30) scale(0.9412 1)" font-size="16.8" stroke="#151515" stroke-width="0.22" fill="#151515">Inch</text>
<text transform="translate(491.60 212.90) scale(0.9630 1)" font-size="16.8" stroke="#151515" stroke-width="0.22" fill="#151515">cm</text>
<text transform="translate(545.55 193.30) scale(0.8690 1)" font-size="16.3" stroke="#151515" stroke-width="0.22" fill="#151515">28-31.5&quot;</text>
<text transform="translate(554.02 212.90) scale(0.8717 1)" font-size="16.3" stroke="#151515" stroke-width="0.22" fill="#151515">72-80</text>
<text transform="translate(636.25 193.30) scale(0.9047 1)" font-size="16.3" stroke="#151515" stroke-width="0.22" fill="#151515">30-33&quot;</text>
<text transform="translate(640.15 212.90) scale(0.8488 1)" font-size="16.3" stroke="#151515" stroke-width="0.22" fill="#151515">77-84</text>
<text transform="translate(721.75 193.30) scale(0.9047 1)" font-size="16.3" stroke="#151515" stroke-width="0.22" fill="#151515">32-35&quot;</text>
<text transform="translate(725.38 212.90) scale(0.8621 1)" font-size="16.3" stroke="#151515" stroke-width="0.22" fill="#151515">81-88</text>
<text transform="translate(795.75 193.30) scale(0.8824 1)" font-size="16.3" stroke="#151515" stroke-width="0.22" fill="#151515">33.5-36.5&quot;</text>
<text transform="translate(810.15 212.90) scale(0.8945 1)" font-size="16.3" stroke="#151515" stroke-width="0.22" fill="#151515">85-93</text>
<text transform="translate(886.98 193.30) scale(0.8911 1)" font-size="16.3" stroke="#151515" stroke-width="0.22" fill="#151515">35-38.5&quot;</text>
<text transform="translate(895.65 212.90) scale(0.8945 1)" font-size="16.3" stroke="#151515" stroke-width="0.22" fill="#151515">90-98</text>
<text transform="translate(978.50 193.30) scale(0.8564 1)" font-size="16.3" stroke="#151515" stroke-width="0.22" fill="#151515">37-41&quot;</text>
<text transform="translate(976.90 212.90) scale(0.8689 1)" font-size="16.3" stroke="#151515" stroke-width="0.22" fill="#151515">95-105</text>
<text transform="translate(297.57 239.80) scale(0.8295 1)" font-size="16.8" stroke="#151515" stroke-width="0.28" fill="#151515">HIPS</text>
<text transform="translate(298.40 259.00) scale(0.8057 1)" font-size="16.8" stroke="#151515" stroke-width="0.28" fill="#151515">CIRCONF. BACINO</text>
<text transform="translate(491.06 239.80) scale(0.9412 1)" font-size="16.8" stroke="#151515" stroke-width="0.22" fill="#151515">Inch</text>
<text transform="translate(491.60 259.00) scale(0.9630 1)" font-size="16.8" stroke="#151515" stroke-width="0.22" fill="#151515">cm</text>
<text transform="translate(550.60 239.80) scale(0.9047 1)" font-size="16.3" stroke="#151515" stroke-width="0.22" fill="#151515">32-35&quot;</text>
<text transform="translate(554.23 259.00) scale(0.8621 1)" font-size="16.3" stroke="#151515" stroke-width="0.22" fill="#151515">81-88</text>
<text transform="translate(636.25 239.80) scale(0.9047 1)" font-size="16.3" stroke="#151515" stroke-width="0.22" fill="#151515">34-36&quot;</text>
<text transform="translate(639.20 259.00) scale(0.8945 1)" font-size="16.3" stroke="#151515" stroke-width="0.22" fill="#151515">86-92</text>
<text transform="translate(721.75 239.80) scale(0.9047 1)" font-size="16.3" stroke="#151515" stroke-width="0.22" fill="#151515">35-38&quot;</text>
<text transform="translate(725.18 259.00) scale(0.8717 1)" font-size="16.3" stroke="#151515" stroke-width="0.22" fill="#151515">90-97</text>
<text transform="translate(807.67 239.80) scale(0.8847 1)" font-size="16.3" stroke="#151515" stroke-width="0.22" fill="#151515">37-40&quot;</text>
<text transform="translate(806.75 259.00) scale(0.8689 1)" font-size="16.3" stroke="#151515" stroke-width="0.22" fill="#151515">95-102</text>
<text transform="translate(886.98 239.80) scale(0.8911 1)" font-size="16.3" stroke="#151515" stroke-width="0.22" fill="#151515">39-42.5&quot;</text>
<text transform="translate(892.25 259.00) scale(0.8689 1)" font-size="16.3" stroke="#151515" stroke-width="0.22" fill="#151515">99-108</text>
<text transform="translate(978.02 239.80) scale(0.8763 1)" font-size="16.3" stroke="#151515" stroke-width="0.22" fill="#151515">41-45&quot;</text>
<text transform="translate(973.31 259.00) scale(0.8602 1)" font-size="16.3" stroke="#151515" stroke-width="0.22" fill="#151515">105-115</text>
<text transform="translate(298.40 285.90) scale(0.7450 1)" font-size="16.8" stroke="#151515" stroke-width="0.28" fill="#151515">SLEEVE</text>
<text transform="translate(297.55 304.60) scale(0.8487 1)" font-size="16.8" stroke="#151515" stroke-width="0.28" fill="#151515">LUNGH. MANICA</text>
<text transform="translate(491.06 285.90) scale(0.9412 1)" font-size="16.8" stroke="#151515" stroke-width="0.22" fill="#151515">Inch</text>
<text transform="translate(491.60 304.60) scale(0.9630 1)" font-size="16.8" stroke="#151515" stroke-width="0.22" fill="#151515">cm</text>
<text transform="translate(545.55 285.90) scale(0.8690 1)" font-size="16.3" stroke="#151515" stroke-width="0.22" fill="#151515">20-21.5&quot;</text>
<text transform="translate(554.23 304.60) scale(0.8621 1)" font-size="16.3" stroke="#151515" stroke-width="0.22" fill="#151515">51-55</text>
<text transform="translate(631.20 285.90) scale(0.8690 1)" font-size="16.3" stroke="#151515" stroke-width="0.22" fill="#151515">21-22.5&quot;</text>
<text transform="translate(639.68 304.60) scale(0.8717 1)" font-size="16.3" stroke="#151515" stroke-width="0.22" fill="#151515">53-57</text>
<text transform="translate(716.70 285.90) scale(0.8690 1)" font-size="16.3" stroke="#151515" stroke-width="0.22" fill="#151515">21.5-23&quot;</text>
<text transform="translate(724.70 304.60) scale(0.8945 1)" font-size="16.3" stroke="#151515" stroke-width="0.22" fill="#151515">55-59</text>
<text transform="translate(807.20 285.90) scale(0.9047 1)" font-size="16.3" stroke="#151515" stroke-width="0.22" fill="#151515">22-24&quot;</text>
<text transform="translate(811.30 304.60) scale(0.8392 1)" font-size="16.3" stroke="#151515" stroke-width="0.22" fill="#151515">57-61</text>
<text transform="translate(892.70 285.90) scale(0.9047 1)" font-size="16.3" stroke="#151515" stroke-width="0.22" fill="#151515">23-25&quot;</text>
<text transform="translate(895.65 304.60) scale(0.8945 1)" font-size="16.3" stroke="#151515" stroke-width="0.22" fill="#151515">59-63</text>
<text transform="translate(971.62 285.90) scale(0.8911 1)" font-size="16.3" stroke="#151515" stroke-width="0.22" fill="#151515">23.5-25&quot;</text>
<text transform="translate(980.30 304.60) scale(0.8945 1)" font-size="16.3" stroke="#151515" stroke-width="0.22" fill="#151515">60-64</text>
<text transform="translate(297.55 331.60) scale(0.8531 1)" font-size="16.8" stroke="#151515" stroke-width="0.28" fill="#151515">INSEAM</text>
<text transform="translate(297.58 350.30) scale(0.8179 1)" font-size="16.8" stroke="#151515" stroke-width="0.28" fill="#151515">LUNGH. CAVALLO/CAVIGLIA</text>
<text transform="translate(491.06 331.60) scale(0.9412 1)" font-size="16.8" stroke="#151515" stroke-width="0.22" fill="#151515">Inch</text>
<text transform="translate(491.60 350.30) scale(0.9630 1)" font-size="16.8" stroke="#151515" stroke-width="0.22" fill="#151515">cm</text>
<text transform="translate(545.35 331.60) scale(0.8755 1)" font-size="16.3" stroke="#151515" stroke-width="0.22" fill="#151515">25-27.5&quot;</text>
<text transform="translate(554.02 350.30) scale(0.8717 1)" font-size="16.3" stroke="#151515" stroke-width="0.22" fill="#151515">65-70</text>
<text transform="translate(636.25 331.60) scale(0.9047 1)" font-size="16.3" stroke="#151515" stroke-width="0.22" fill="#151515">26-28&quot;</text>
<text transform="translate(640.15 350.30) scale(0.8488 1)" font-size="16.3" stroke="#151515" stroke-width="0.22" fill="#151515">67-72</text>
<text transform="translate(722.23 331.60) scale(0.8847 1)" font-size="16.3" stroke="#151515" stroke-width="0.22" fill="#151515">27-29&quot;</text>
<text transform="translate(725.18 350.30) scale(0.8717 1)" font-size="16.3" stroke="#151515" stroke-width="0.22" fill="#151515">68-74</text>
<text transform="translate(807.20 331.60) scale(0.9047 1)" font-size="16.3" stroke="#151515" stroke-width="0.22" fill="#151515">28-30&quot;</text>
<text transform="translate(811.77 350.30) scale(0.8164 1)" font-size="16.3" stroke="#151515" stroke-width="0.22" fill="#151515">71-76</text>
<text transform="translate(893.38 331.60) scale(0.8763 1)" font-size="16.3" stroke="#151515" stroke-width="0.22" fill="#151515">29-31&quot;</text>
<text transform="translate(896.60 350.30) scale(0.8488 1)" font-size="16.3" stroke="#151515" stroke-width="0.22" fill="#151515">73-78</text>
<text transform="translate(966.57 331.60) scale(0.8643 1)" font-size="16.3" stroke="#151515" stroke-width="0.22" fill="#151515">29.5-31.5&quot;</text>
<text transform="translate(980.77 350.30) scale(0.8717 1)" font-size="16.3" stroke="#151515" stroke-width="0.22" fill="#151515">75-80</text>
<text transform="translate(297.59 377.30) scale(0.8094 1)" font-size="16.8" stroke="#151515" stroke-width="0.28" fill="#151515">HEIGHT</text>
<text transform="translate(298.40 396.50) scale(0.7525 1)" font-size="16.8" stroke="#151515" stroke-width="0.28" fill="#151515">ALTEZZA</text>
<text transform="translate(491.06 377.30) scale(0.9412 1)" font-size="16.8" stroke="#151515" stroke-width="0.22" fill="#151515">Inch</text>
<text transform="translate(491.60 396.50) scale(0.9630 1)" font-size="16.8" stroke="#151515" stroke-width="0.22" fill="#151515">cm</text>
<text transform="translate(550.60 377.30) scale(0.9047 1)" font-size="16.3" stroke="#151515" stroke-width="0.22" fill="#151515">65-68&quot;</text>
<text transform="translate(546.87 396.50) scale(0.8331 1)" font-size="16.3" stroke="#151515" stroke-width="0.22" fill="#151515">167-172</text>
<text transform="translate(637.20 377.30) scale(0.8648 1)" font-size="16.3" stroke="#151515" stroke-width="0.22" fill="#151515">67-70&quot;</text>
<text transform="translate(633.71 396.50) scale(0.7939 1)" font-size="16.3" stroke="#151515" stroke-width="0.22" fill="#151515">171-177</text>
<text transform="translate(722.23 377.30) scale(0.8847 1)" font-size="16.3" stroke="#151515" stroke-width="0.22" fill="#151515">69-72&quot;</text>
<text transform="translate(717.53 396.50) scale(0.8493 1)" font-size="16.3" stroke="#151515" stroke-width="0.22" fill="#151515">176-182</text>
<text transform="translate(808.83 377.30) scale(0.8365 1)" font-size="16.3" stroke="#151515" stroke-width="0.22" fill="#151515">71-74&quot;</text>
<text transform="translate(803.67 396.50) scale(0.8263 1)" font-size="16.3" stroke="#151515" stroke-width="0.22" fill="#151515">181-187</text>
<text transform="translate(887.92 377.30) scale(0.8600 1)" font-size="16.3" stroke="#151515" stroke-width="0.22" fill="#151515">73-75.5&quot;</text>
<text transform="translate(887.98 396.50) scale(0.8655 1)" font-size="16.3" stroke="#151515" stroke-width="0.22" fill="#151515">186-192</text>
<text transform="translate(973.05 377.30) scale(0.8445 1)" font-size="16.3" stroke="#151515" stroke-width="0.22" fill="#151515">75-77.5&quot;</text>
<text transform="translate(973.82 396.50) scale(0.8263 1)" font-size="16.3" stroke="#151515" stroke-width="0.22" fill="#151515">191-197</text>
<text transform="translate(298.40 422.90) scale(0.8240 1)" font-size="16.8" stroke="#151515" stroke-width="0.28" fill="#151515">WEIGHT</text>
<text transform="translate(297.65 442.60) scale(0.7503 1)" font-size="16.8" stroke="#151515" stroke-width="0.28" fill="#151515">PESO</text>
<text transform="translate(491.11 422.90) scale(0.8922 1)" font-size="16.8" stroke="#151515" stroke-width="0.22" fill="#151515">Lbs</text>
<text transform="translate(490.72 442.60) scale(0.8805 1)" font-size="16.8" stroke="#151515" stroke-width="0.22" fill="#151515">Kg</text>
<text transform="translate(545.88 422.90) scale(0.8655 1)" font-size="16.3" stroke="#151515" stroke-width="0.22" fill="#151515">140-154</text>
<text transform="translate(554.02 442.60) scale(0.8717 1)" font-size="16.3" stroke="#151515" stroke-width="0.22" fill="#151515">63-70</text>
<text transform="translate(632.03 422.90) scale(0.8493 1)" font-size="16.3" stroke="#151515" stroke-width="0.22" fill="#151515">150-167</text>
<text transform="translate(639.68 442.60) scale(0.8717 1)" font-size="16.3" stroke="#151515" stroke-width="0.22" fill="#151515">68-76</text>
<text transform="translate(717.03 422.90) scale(0.8655 1)" font-size="16.3" stroke="#151515" stroke-width="0.22" fill="#151515">163-185</text>
<text transform="translate(725.18 442.60) scale(0.8717 1)" font-size="16.3" stroke="#151515" stroke-width="0.22" fill="#151515">74-84</text>
<text transform="translate(801.79 422.90) scale(0.8885 1)" font-size="16.3" stroke="#151515" stroke-width="0.22" fill="#151515">180-202</text>
<text transform="translate(810.15 442.60) scale(0.8945 1)" font-size="16.3" stroke="#151515" stroke-width="0.22" fill="#151515">82-92</text>
<text transform="translate(887.29 422.90) scale(0.8885 1)" font-size="16.3" stroke="#151515" stroke-width="0.22" fill="#151515">198-220</text>
<text transform="translate(892.25 442.60) scale(0.8689 1)" font-size="16.3" stroke="#151515" stroke-width="0.22" fill="#151515">90-100</text>
<text transform="translate(972.82 422.90) scale(0.8736 1)" font-size="16.3" stroke="#151515" stroke-width="0.22" fill="#151515">215-250</text>
<text transform="translate(977.57 442.60) scale(0.8628 1)" font-size="16.3" stroke="#151515" stroke-width="0.22" fill="#151515">98-114</text>
<text transform="translate(272.74 503.80) scale(0.8591 1)" font-size="16.6" font-weight="bold" stroke="#111" stroke-width="0.2" fill="#111">EN</text>
<text transform="translate(272.82 524.00) scale(0.7788 1)" font-size="16.6" font-weight="bold" stroke="#111" stroke-width="0.2" fill="#111">IT</text>
<text transform="translate(272.83 544.00) scale(0.7712 1)" font-size="16.6" font-weight="bold" stroke="#111" stroke-width="0.2" fill="#111">FR</text>
<text transform="translate(296.50 503.80) scale(0.9545 1)" font-size="16.9" stroke="#111" stroke-width="0.25" fill="#111">Given the type of material, the tables are intended as indicative.</text>
<text transform="translate(296.50 524.00) scale(0.9585 1)" font-size="16.9" stroke="#111" stroke-width="0.25" fill="#111">Vista la tipologia del materiale, le tabelle sono da intendersi come indicative.</text>
<text transform="translate(295.56 544.00) scale(0.9441 1)" font-size="16.9" stroke="#111" stroke-width="0.25" fill="#111">Les valeurs données dans le tableau sont indicatives et peuvent variées en fonction du type de néoprène.</text>
</g>
<path d="M920.3 47.6 L925.9 47.6 L919.9 75.9 L914.3 75.9Z" fill="#333333"/>
<!-- asterisk -->
<path d="M275.7 473 l1.2 1.6 1.9-0.6 -1.1 1.7 1.1 1.7 -1.9-0.6 -1.2 1.6 0-2 -1.9-0.7 1.9-0.7z" fill="#111" stroke="#111" stroke-width="1.2" stroke-linejoin="round"/>
</svg>
</body></html>
